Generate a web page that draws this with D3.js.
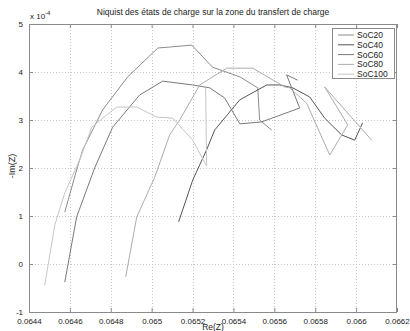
<!DOCTYPE html>
<html><head><meta charset="utf-8">
<script src="https://cdn.jsdelivr.net/npm/d3@7"></script>
<style>
html,body{margin:0;padding:0;background:#fff;}
text{font-family:"Liberation Sans",Arial,sans-serif;fill:#222;}
</style></head>
<body><svg id="c" width="410" height="331"></svg>
<script>
// ---- data (Im values in units of 1e-4) ----
const seriesNames = ["SoC20","SoC40","SoC60","SoC80","SoC100"];
const soc20Re = [0.064575,0.064633,0.064663,0.064760,0.064883,0.065030,0.065088,0.065196,0.065298,0.065431,0.065519,0.065528,0.065587];
const soc20Im = [1.08,1.96,2.38,3.21,3.90,4.50,4.52,4.56,4.10,3.90,3.67,3.00,2.79];
const soc40Re = [0.065132,0.065201,0.065269,0.065308,0.065431,0.065563,0.065626,0.065690,0.065773,0.065846,0.065929,0.065993,0.066032];
const soc40Im = [0.88,1.75,2.38,2.79,3.42,3.73,3.73,3.67,3.48,3.04,2.69,2.58,2.94];
const soc60Re = [0.064575,0.064633,0.064721,0.064809,0.064941,0.065054,0.065201,0.065284,0.065357,0.065431,0.065538,0.065724,0.065660,0.065714];
const soc60Im = [-0.38,0.98,2.00,2.85,3.52,3.81,3.73,3.67,3.46,2.92,2.96,3.25,3.94,3.83];
const soc80Re = [0.064873,0.064927,0.065015,0.065088,0.065137,0.065235,0.065367,0.065494,0.065651,0.065675,0.065758,0.065871,0.065959,0.065846,0.066076];
const soc80Im = [-0.27,0.98,1.81,2.69,3.00,3.73,4.08,4.08,3.69,3.67,3.35,2.27,2.90,3.69,2.58];
const soc100Re = [0.064477,0.064526,0.064575,0.064648,0.064707,0.064829,0.064927,0.065025,0.065103,0.065201,0.065269,0.065264];
const soc100Im = [-0.44,0.81,1.48,2.17,2.85,3.27,3.27,3.06,3.04,2.58,2.04,3.67];
const xTicks = [0.0644,0.0646,0.0648,0.065,0.0652,0.0654,0.0656,0.0658,0.066,0.0662];
const xTickLabels = ["0.0644","0.0646","0.0648","0.065","0.0652","0.0654","0.0656","0.0658","0.066","0.0662"];
const yTicks = [-1,0,1,2,3,4,5];
const yTickLabels = ["-1","0","1","2","3","4","5"];
const seriesColors = ["#8c8c8c","#555555","#7a7a7a","#acacac","#c6c6c6"];

const series = [
  {name: seriesNames[0], re: soc20Re, im: soc20Im, color: seriesColors[0]},
  {name: seriesNames[1], re: soc40Re, im: soc40Im, color: seriesColors[1]},
  {name: seriesNames[2], re: soc60Re, im: soc60Im, color: seriesColors[2]},
  {name: seriesNames[3], re: soc80Re, im: soc80Im, color: seriesColors[3]},
  {name: seriesNames[4], re: soc100Re, im: soc100Im, color: seriesColors[4]}
];

const L = 29, R = 397, T = 24, B = 312;
const svg = d3.select("#c");
const x = d3.scaleLinear().domain([0.0644, 0.0662]).range([L, R]);
const y = d3.scaleLinear().domain([-1, 5]).range([B, T]);
const frame = "#8a8a8a";

// grid
const g = svg.append("g");
g.selectAll(".gx").data(xTicks.slice(1, -1)).enter().append("line")
  .attr("x1", d => Math.round(x(d)) + 0.5).attr("x2", d => Math.round(x(d)) + 0.5)
  .attr("y1", T).attr("y2", B)
  .attr("stroke", "#c8c8c8").attr("stroke-dasharray", "1,2").attr("stroke-width", 1);
g.selectAll(".gy").data(yTicks.slice(1, -1)).enter().append("line")
  .attr("y1", d => Math.round(y(d)) + 0.5).attr("y2", d => Math.round(y(d)) + 0.5)
  .attr("x1", L).attr("x2", R)
  .attr("stroke", "#c8c8c8").attr("stroke-dasharray", "1,2").attr("stroke-width", 1);

// series
const line = d3.line().x(d => x(d[0])).y(d => y(d[1]));
series.forEach(s => {
  const pts = s.re.map((v, i) => [v, s.im[i]]);
  svg.append("path").datum(pts).attr("d", line)
    .attr("fill", "none").attr("stroke", s.color).attr("stroke-width", 1);
});

// axes
function styleAxis(sel, showLabels) {
  sel.select(".domain").remove();
  sel.selectAll(".tick line").attr("stroke", frame);
  sel.selectAll(".tick text").style("font-size", "8px").attr("fill", "#222");
  if (!showLabels) sel.selectAll(".tick text").remove();
}
const xb = svg.append("g").attr("transform", `translate(0,${B})`)
  .call(d3.axisBottom(x).tickValues(xTicks).tickFormat((d, i) => xTickLabels[i]).tickSizeInner(-4).tickSizeOuter(0).tickPadding(6));
styleAxis(xb, true);
const xt = svg.append("g").attr("transform", `translate(0,${T})`)
  .call(d3.axisTop(x).tickValues(xTicks).tickSizeInner(-4).tickSizeOuter(0));
styleAxis(xt, false);
const yl = svg.append("g").attr("transform", `translate(${L},0)`)
  .call(d3.axisLeft(y).tickValues(yTicks).tickFormat((d, i) => yTickLabels[i]).tickSizeInner(-4).tickSizeOuter(0).tickPadding(6));
styleAxis(yl, true);
const yr = svg.append("g").attr("transform", `translate(${R},0)`)
  .call(d3.axisRight(y).tickValues(yTicks).tickSizeInner(-4).tickSizeOuter(0));
styleAxis(yr, false);

// frame
svg.append("rect").attr("x", L + 0.5).attr("y", T + 0.5).attr("width", R - L - 1).attr("height", B - T)
  .attr("fill", "none").attr("stroke", frame).attr("stroke-width", 1);

// exponent label
const ex = svg.append("text").attr("x", L + 1).attr("y", 19).style("font-size", "8px");
ex.append("tspan").text("x 10");
ex.append("tspan").attr("dy", -4).style("font-size", "6px").text("-4");

// title
svg.append("text").attr("x", (L + R) / 2).attr("y", 15).attr("text-anchor", "middle")
  .style("font-size", "8.5px").text("Niquist des états de charge sur la zone du transfert de charge");
// axis labels
svg.append("text").attr("x", (L + R) / 2).attr("y", 330).attr("text-anchor", "middle")
  .style("font-size", "8.5px").text("Re(Z)");
svg.append("text").attr("transform", `translate(15,${(T + B) / 2 - 2}) rotate(-90)`).attr("text-anchor", "middle")
  .style("font-size", "9px").text("-Im(Z)");

// legend
const lg = svg.append("g");
lg.append("rect").attr("x", 332.5).attr("y", 28.5).attr("width", 62).attr("height", 50)
  .attr("fill", "#fff").attr("stroke", frame);
series.forEach((s, i) => {
  const yy = 35 + i * 9.8;
  lg.append("line").attr("x1", 338).attr("x2", 354).attr("y1", yy).attr("y2", yy)
    .attr("stroke", s.color).attr("stroke-width", 1);
  lg.append("text").attr("x", 357).attr("y", yy + 3).style("font-size", "8.5px").text(s.name);
});
</script></body></html>
